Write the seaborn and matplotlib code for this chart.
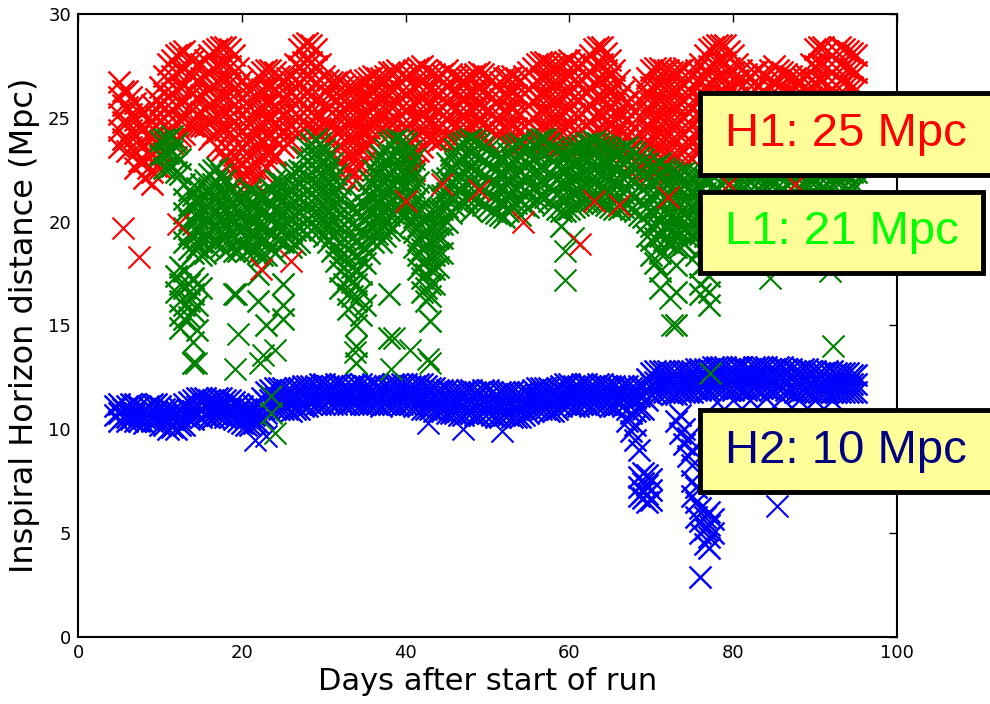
import matplotlib
matplotlib.use("Agg")
import matplotlib.pyplot as plt
import seaborn as sns
import pandas as pd
from matplotlib.patches import Rectangle

# ---------------- data ----------------
# (day, [horizon distances in Mpc seen around that day])
h1_rows = [
    (5, [26.7, 26.0, 25.2, 24.4, 23.6]), (5.5, [26.3, 25.6, 24.8, 24.0]),
    (6, [26.3, 25.5, 24.8, 24.0, 23.4]), (6.5, [26.0, 25.2, 24.4, 23.6]),
    (7, [25.7, 24.9, 24.1, 23.3, 22.6]), (7.5, [25.3, 24.5, 23.7, 22.9]),
    (8, [25.3, 24.5, 23.7, 22.9, 22.1]), (8.5, [25.0, 24.2, 23.4, 22.6]),
    (9, [25.6, 24.8, 24.0, 23.2, 22.4, 21.8]), (9.5, [25.9, 25.1, 24.3, 23.5, 22.7]),
    (10, [26.5, 25.7, 24.9, 24.1, 23.3, 22.6]), (10.5, [27.0, 26.2, 25.4, 24.6, 23.8, 23.0]),
    (11, [27.6, 26.8, 26.0, 25.2, 24.4, 23.6]), (11.5, [27.8, 27.0, 26.2, 25.4, 24.6, 23.8]),
    (12, [28.0, 27.2, 26.4, 25.6, 24.8, 24.0]), (12.5, [28.1, 27.3, 26.5, 25.7, 24.9, 24.1]),
    (13, [28.2, 27.4, 26.6, 25.8, 25.0, 24.2]), (13.5, [27.9, 27.1, 26.3, 25.5, 24.7]),
    (14, [27.8, 27.0, 26.2, 25.4, 24.6]), (14.5, [27.6, 26.8, 26.0, 25.2, 24.6]),
    (15, [27.6, 26.9, 26.1, 25.3, 24.6]), (15.5, [27.8, 27.0, 26.2, 25.4, 24.6]),
    (16, [28.0, 27.2, 26.4, 25.6, 24.8, 24.0]), (16.5, [28.2, 27.4, 26.6, 25.8, 25.0, 24.2]),
    (17, [28.3, 27.5, 26.7, 25.9, 25.1, 24.3, 23.6]), (17.5, [28.4, 27.6, 26.8, 26.0, 25.2, 24.4, 23.4]),
    (18, [28.4, 27.6, 26.8, 26.0, 25.2, 24.4, 23.6, 23.0]),
    (18.5, [28.3, 27.5, 26.7, 25.9, 25.1, 24.3, 23.4, 22.8]),
    (19, [28.0, 27.2, 26.4, 25.6, 24.8, 24.0, 23.2, 22.5]),
    (19.5, [27.4, 26.6, 25.8, 25.0, 24.2, 23.4, 22.6, 22.0]),
    (20, [26.8, 26.0, 25.2, 24.4, 23.6, 22.8, 22.0]), (20.5, [26.5, 25.7, 24.9, 24.1, 23.3, 22.5, 21.8]),
    (21, [26.3, 25.5, 24.7, 23.9, 23.1, 22.4, 21.7]), (21.5, [26.6, 25.8, 25.0, 24.2, 23.4, 22.6, 21.9]),
    (22, [27.0, 26.2, 25.4, 24.6, 23.8, 23.0, 22.2]), (22.5, [27.2, 26.4, 25.6, 24.8, 24.0, 23.2, 22.4]),
    (23, [27.3, 26.5, 25.7, 24.9, 24.1, 23.3, 22.6]), (23.5, [27.3, 26.5, 25.7, 24.9, 24.1, 23.3, 22.8]),
    (24, [27.2, 26.4, 25.6, 24.8, 24.0, 23.2]), (24.5, [27.0, 26.2, 25.4, 24.6, 23.8]),
    (25, [26.8, 26.0, 25.2, 24.4, 23.6]), (25.5, [26.9, 26.1, 25.3, 24.5, 23.8]),
    (26, [27.0, 26.2, 25.4, 24.6, 23.9]), (26.5, [27.6, 26.8, 26.0, 25.2, 24.4]),
    (27, [28.3, 27.5, 26.7, 25.9, 25.1, 24.3]), (27.5, [28.5, 27.7, 26.9, 26.1, 25.3, 24.5]),
    (28, [28.6, 27.8, 27.0, 26.2, 25.4, 24.6]), (28.5, [28.5, 27.7, 26.9, 26.1, 25.3, 24.5]),
    (29, [28.3, 27.5, 26.7, 25.9, 25.1, 24.4]), (29.5, [27.6, 26.8, 26.0, 25.2, 24.5]),
    (30, [27.0, 26.3, 25.6, 24.9, 24.3]), (30.5, [26.8, 26.1, 25.4, 24.7, 24.1]),
    (31, [26.7, 26.0, 25.3, 24.6, 24.0]), (31.5, [26.7, 25.9, 25.1, 24.3, 23.5]),
    (32, [26.8, 26.0, 25.2, 24.4, 23.6, 22.9]), (32.5, [26.6, 25.8, 25.0, 24.2, 23.4, 22.6]),
    (33, [26.5, 25.7, 24.9, 24.1, 23.3, 22.6, 22.0]), (33.5, [26.5, 25.7, 24.9, 24.1, 23.3, 22.5]),
    (34, [26.6, 25.8, 25.0, 24.2, 23.4, 22.7, 22.0]), (34.5, [26.7, 25.9, 25.1, 24.3, 23.5, 22.7]),
    (35, [26.8, 26.0, 25.2, 24.4, 23.6, 22.9]), (35.5, [26.9, 26.1, 25.3, 24.5, 23.7]),
    (36, [27.0, 26.2, 25.4, 24.6, 23.9]), (36.5, [26.9, 26.1, 25.3, 24.6]),
    (37, [26.9, 26.1, 25.3, 24.5]), (37.5, [27.0, 26.2, 25.4, 24.7]),
    (38, [27.2, 26.4, 25.6, 24.8, 24.2]), (38.5, [27.2, 26.4, 25.6, 24.8, 24.0]),
    (39, [27.3, 26.5, 25.7, 24.9, 24.1, 23.4]), (39.5, [27.1, 26.3, 25.5, 24.7, 23.9, 23.2]),
    (40, [27.0, 26.2, 25.4, 24.6, 23.8, 23.0, 22.4]), (40.5, [27.1, 26.3, 25.5, 24.7, 23.9, 23.1, 22.4]),
    (41, [27.3, 26.5, 25.7, 24.9, 24.1, 23.3, 22.5]), (41.5, [27.4, 26.6, 25.8, 25.0, 24.2, 23.4]),
    (42, [27.5, 26.7, 25.9, 25.1, 24.3, 23.6]), (42.5, [27.3, 26.5, 25.7, 24.9, 24.1]),
    (43, [27.2, 26.4, 25.6, 24.8, 24.0]), (43.5, [27.1, 26.3, 25.5, 24.7, 24.0]),
    (44, [27.0, 26.2, 25.4, 24.6, 23.9]), (44.5, [27.1, 26.3, 25.5, 24.7, 24.0]),
    (45, [27.3, 26.5, 25.7, 24.9, 24.1]), (45.5, [27.1, 26.3, 25.5, 24.7, 24.0]),
    (46, [27.0, 26.2, 25.4, 24.6, 23.9]), (46.5, [26.9, 26.1, 25.3, 24.5]),
    (47, [26.8, 26.0, 25.2, 24.4]), (47.5, [26.9, 26.1, 25.3, 24.5]),
    (48, [27.0, 26.2, 25.4, 24.6]), (48.5, [27.1, 26.3, 25.5, 24.7]),
    (49, [27.2, 26.4, 25.6, 24.8, 24.1]), (49.5, [27.1, 26.3, 25.5, 24.7, 24.0]),
    (50, [27.0, 26.2, 25.4, 24.6, 23.9]), (50.5, [26.8, 26.0, 25.2, 24.4]),
    (51, [26.6, 25.8, 25.0, 24.2]), (51.5, [26.7, 25.9, 25.1, 24.3]),
    (52, [26.9, 26.1, 25.3, 24.5]), (52.5, [26.9, 26.1, 25.3, 24.5]),
    (53, [27.0, 26.2, 25.4, 24.6, 23.9]), (53.5, [26.9, 26.1, 25.3, 24.5, 23.8]),
    (54, [26.8, 26.0, 25.2, 24.4, 23.7]), (54.5, [27.0, 26.2, 25.4, 24.6, 23.8]),
    (55, [27.2, 26.4, 25.6, 24.8, 24.0]), (55.5, [27.4, 26.6, 25.8, 25.0, 24.2]),
    (56, [27.6, 26.8, 26.0, 25.2, 24.4, 23.7]), (56.5, [27.7, 26.9, 26.1, 25.3, 24.5, 23.8]),
    (57, [27.7, 26.9, 26.1, 25.3, 24.5, 23.8]), (57.5, [27.6, 26.8, 26.0, 25.2, 24.4, 23.7]),
    (58, [27.5, 26.7, 25.9, 25.1, 24.3, 23.6]), (58.5, [27.5, 26.7, 25.9, 25.1, 24.3, 23.6]),
    (59, [27.6, 26.8, 26.0, 25.2, 24.4, 23.6]), (59.5, [27.7, 26.9, 26.1, 25.3, 24.5, 23.7]),
    (60, [27.8, 27.0, 26.2, 25.4, 24.6, 23.8]), (60.5, [27.6, 26.8, 26.0, 25.2, 24.4, 23.6]),
    (61, [27.5, 26.7, 25.9, 25.1, 24.3, 23.5]), (61.5, [27.6, 26.8, 26.0, 25.2, 24.4, 23.6]),
    (62, [27.8, 27.0, 26.2, 25.4, 24.6, 23.8]), (62.5, [28.0, 27.2, 26.4, 25.6, 24.8, 24.0]),
    (63, [28.3, 27.5, 26.7, 25.9, 25.1, 24.3, 23.6]), (63.5, [28.4, 27.6, 26.8, 26.0, 25.2, 24.4, 23.6]),
    (64, [28.4, 27.6, 26.8, 26.0, 25.2, 24.4, 23.6]), (64.5, [28.1, 27.3, 26.5, 25.7, 24.9, 24.1]),
    (65, [27.8, 27.0, 26.2, 25.4, 24.6, 23.8]), (65.5, [27.3, 26.5, 25.7, 24.9, 24.1, 23.5]),
    (66, [26.8, 26.0, 25.2, 24.4, 23.6]), (66.5, [26.3, 25.5, 24.7, 23.9, 23.1]),
    (67, [25.8, 25.0, 24.2, 23.4, 22.6]), (67.5, [25.5, 24.7, 23.9, 23.1, 22.4]),
    (68, [25.3, 24.5, 23.7, 22.9, 22.2]), (68.5, [25.9, 25.1, 24.3, 23.5, 22.7]),
    (69, [26.5, 25.7, 24.9, 24.1, 23.3, 22.5]), (69.5, [26.9, 26.1, 25.3, 24.5, 23.7, 22.9]),
    (70, [27.3, 26.5, 25.7, 24.9, 24.1, 23.3, 22.5]), (70.5, [27.4, 26.6, 25.8, 25.0, 24.2, 23.4, 22.6]),
    (71, [27.4, 26.6, 25.8, 25.0, 24.2, 23.4, 22.6]), (71.5, [27.3, 26.5, 25.7, 24.9, 24.1, 23.3, 22.5]),
    (72, [27.3, 26.5, 25.7, 24.9, 24.1, 23.3, 22.3]), (72.5, [27.2, 26.4, 25.6, 24.8, 24.0, 23.2]),
    (73, [27.2, 26.4, 25.6, 24.8, 24.0, 23.2, 22.4]), (73.5, [27.3, 26.5, 25.7, 24.9, 24.1, 23.3]),
    (74, [27.4, 26.6, 25.8, 25.0, 24.2, 23.4]), (74.5, [27.2, 26.4, 25.6, 24.8, 24.0, 23.2]),
    (75, [27.0, 26.2, 25.4, 24.6, 23.8, 23.0]), (75.5, [27.3, 26.5, 25.7, 24.9, 24.1, 23.3]),
    (76, [27.6, 26.8, 26.0, 25.2, 24.4, 23.6]), (76.5, [28.0, 27.2, 26.4, 25.6, 24.8, 24.0]),
    (77, [28.3, 27.5, 26.7, 25.9, 25.1, 24.3, 23.5]), (77.5, [28.4, 27.6, 26.8, 26.0, 25.2, 24.4]),
    (78, [28.5, 27.7, 26.9, 26.1, 25.3, 24.5, 23.7]), (78.5, [28.5, 27.7, 26.9, 26.1, 25.3, 24.5]),
    (79, [28.5, 27.7, 26.9, 26.1, 25.3, 24.5, 23.7]), (79.5, [28.2, 27.4, 26.6, 25.8, 25.0, 24.2]),
    (80, [28.0, 27.2, 26.4, 25.6, 24.8, 24.0]), (80.5, [27.6, 26.8, 26.0, 25.2, 24.4]),
    (81, [27.3, 26.5, 25.7, 24.9, 24.1]), (81.5, [27.1, 26.3, 25.5, 24.7]),
    (82, [27.0, 26.2, 25.4, 24.6]), (82.5, [27.2, 26.4, 25.6, 24.8]),
    (83, [27.3, 26.5, 25.7, 24.9]), (83.5, [27.1, 26.3, 25.5, 24.7]),
    (84, [27.0, 26.2, 25.4, 24.6]), (84.5, [27.3, 26.5, 25.7, 24.9]),
    (85, [27.5, 26.7, 25.9, 25.1]), (85.5, [27.3, 26.5, 25.7, 24.9]),
    (86, [27.2, 26.4, 25.6, 24.8]), (86.5, [27.1, 26.3, 25.5, 24.7]),
    (87, [27.0, 26.2, 25.4, 24.6]), (87.5, [26.9, 26.1, 25.3]),
    (88, [26.8, 26.0, 25.2]), (88.5, [26.9, 26.1, 25.3]),
    (89, [27.0, 26.2, 25.4]), (89.5, [27.6, 26.8, 26.0, 25.2]),
    (90, [28.3, 27.5, 26.7, 25.9, 25.1]), (90.5, [28.4, 27.6, 26.8, 26.0]),
    (91, [28.4, 27.6, 26.8, 26.0]), (91.5, [28.2, 27.4, 26.6, 25.8]),
    (92, [28.0, 27.2, 26.4, 25.6]), (92.5, [28.2, 27.4, 26.6, 25.8]),
    (93, [28.4, 27.6, 26.8, 26.0]), (93.5, [28.3, 27.5, 26.7, 25.9]),
    (94, [28.2, 27.4, 26.6, 25.8]), (94.5, [28.1, 27.3, 26.5, 25.7]),
    (95, [28.0, 27.2, 26.4, 25.6]),
]
h1_out_day = [5.5, 7.5, 12.2, 22.3, 26.0, 40.0, 44.5, 49.0, 54.3, 61.3, 63.0, 66.0, 72.0, 79.5, 87.5]
h1_out_val = [19.7, 18.3, 19.9, 17.7, 18.1, 21.0, 21.8, 21.5, 20.0, 18.9, 21.0, 20.8, 21.2, 21.8, 21.8]

l1_rows = [
    (10, [23.9, 23.2]), (10.5, [24.0, 23.3, 22.6]),
    (11, [24.0, 23.3, 22.6]), (11.5, [24.1, 23.4, 22.7]),
    (12, [23.8, 23.1, 22.4, 17.4, 16.6]), (12.5, [23.0, 22.3, 17.8, 17.0, 16.2, 15.5, 14.9]),
    (13, [21.8, 21.1, 20.4, 19.7, 19.0, 17.6, 16.8, 16.0, 15.3]),
    (13.5, [21.5, 20.8, 20.1, 19.4, 18.7, 17.0, 16.2, 15.4]),
    (14, [21.3, 20.6, 19.9, 19.2, 18.5, 17.3, 16.5, 15.7, 14.2, 13.2]),
    (14.5, [21.6, 20.9, 20.2, 19.5, 18.8, 17.0, 16.0, 14.8]),
    (15, [21.8, 21.1, 20.4, 19.7, 19.0, 18.4, 16.8]), (15.5, [22.0, 21.3, 20.6, 19.9, 19.2, 18.5]),
    (16, [22.3, 21.6, 20.9, 20.2, 19.5, 18.8]), (16.5, [22.5, 21.8, 21.1, 20.4, 19.7, 19.0]),
    (17, [22.6, 21.9, 21.2, 20.5, 19.8, 19.0]), (17.5, [22.3, 21.6, 20.9, 20.2, 19.5, 18.8]),
    (18, [22.0, 21.3, 20.6, 19.9, 19.2, 18.6]), (18.5, [21.6, 20.9, 20.2, 19.5, 18.8]),
    (19, [21.3, 20.6, 19.9, 19.2, 18.6, 16.5]), (19.5, [21.1, 20.4, 19.7, 19.0, 18.6]),
    (20, [21.0, 20.3, 19.6, 18.9]), (20.5, [21.3, 20.6, 19.9, 19.2, 18.6]),
    (21, [21.5, 20.8, 20.1, 19.4, 18.7]), (21.5, [21.4, 20.7, 20.0, 19.3, 18.6]),
    (22, [21.3, 20.6, 19.9, 19.2, 18.5, 17.5, 16.2]), (22.5, [21.2, 20.5, 19.8, 19.1, 18.4]),
    (23, [21.2, 20.5, 19.8, 19.1, 18.4, 15.0]), (23.5, [21.6, 20.9, 20.2, 19.5, 18.8]),
    (24, [22.0, 21.3, 20.6, 19.9, 19.2, 18.5]), (24.5, [21.9, 21.2, 20.5, 19.8, 19.1]),
    (25, [21.8, 21.1, 20.4, 19.7, 19.0, 17.0, 16.0, 15.3]), (25.5, [22.0, 21.3, 20.6, 19.9, 19.2]),
    (26, [22.3, 21.6, 20.9, 20.2, 19.5, 18.8]), (26.5, [22.4, 21.7, 21.0, 20.3, 19.6, 18.9]),
    (27, [22.5, 21.8, 21.1, 20.4, 19.7, 19.0]), (27.5, [23.1, 22.4, 21.7, 21.0, 20.3, 19.6]),
    (28, [23.6, 22.9, 22.2, 21.5, 20.8, 20.1, 19.4]), (28.5, [23.8, 23.1, 22.4, 21.7, 21.0, 20.3, 19.6]),
    (29, [24.0, 23.3, 22.6, 21.9, 21.2, 20.5, 19.8]), (29.5, [23.8, 23.1, 22.4, 21.7, 21.0, 20.3, 19.6]),
    (30, [23.5, 22.8, 22.1, 21.4, 20.7, 20.0, 19.3]), (30.5, [23.2, 22.5, 21.8, 21.1, 20.4, 19.7, 19.0]),
    (31, [22.8, 22.1, 21.4, 20.7, 20.0, 19.3, 18.6]), (31.5, [22.3, 21.6, 20.9, 20.2, 19.5, 18.8, 18.1]),
    (32, [21.8, 21.1, 20.4, 19.7, 19.0, 18.3, 17.6, 16.8]),
    (32.5, [21.3, 20.6, 19.9, 19.2, 18.5, 17.8, 17.0]),
    (33, [20.8, 20.1, 19.4, 18.7, 18.0, 17.3, 16.5, 15.8]),
    (33.5, [20.6, 19.9, 19.2, 18.5, 17.8, 17.1, 16.4]),
    (34, [20.5, 19.8, 19.1, 18.4, 17.7, 17.0, 16.2, 15.0, 14.0, 13.2]),
    (34.5, [21.0, 20.3, 19.6, 18.9, 18.2, 17.5, 16.6, 15.5]),
    (35, [21.5, 20.8, 20.1, 19.4, 18.7, 18.0, 16.0]), (35.5, [22.0, 21.3, 20.6, 19.9, 19.2, 18.5]),
    (36, [22.5, 21.8, 21.1, 20.4, 19.7, 19.0]), (36.5, [22.9, 22.2, 21.5, 20.8, 20.1, 19.4]),
    (37, [23.2, 22.5, 21.8, 21.1, 20.4, 19.7, 19.0]), (37.5, [23.5, 22.8, 22.1, 21.4, 20.7, 20.0, 19.3]),
    (38, [23.8, 23.1, 22.4, 21.7, 21.0, 20.3, 19.6, 16.5, 14.4]),
    (38.5, [23.9, 23.2, 22.5, 21.8, 21.1, 20.4, 19.7]),
    (39, [24.0, 23.3, 22.6, 21.9, 21.2, 20.5]), (39.5, [23.9, 23.2, 22.5, 21.8, 21.1, 20.4]),
    (40, [23.8, 23.1, 22.4, 21.7, 21.0, 20.3]), (40.5, [23.4, 22.7, 22.0, 21.3, 20.6, 19.9]),
    (41, [23.0, 22.3, 21.6, 20.9, 20.2, 19.5, 18.8]), (41.5, [21.9, 21.2, 20.5, 19.8, 19.1, 18.4, 17.7]),
    (42, [20.8, 20.1, 19.4, 18.7, 18.0, 17.3, 16.6]), (42.5, [20.3, 19.6, 18.9, 18.2, 17.5, 16.8, 16.2]),
    (43, [19.8, 19.1, 18.4, 17.7, 17.0, 16.4, 15.2]), (43.5, [20.5, 19.8, 19.1, 18.4, 17.7, 17.0]),
    (44, [21.3, 20.6, 19.9, 19.2, 18.5, 17.8]), (44.5, [22.0, 21.3, 20.6, 19.9, 19.2, 18.5]),
    (45, [22.8, 22.1, 21.4, 20.7, 20.0]), (45.5, [23.2, 22.5, 21.8, 21.1, 20.4]),
    (46, [23.5, 22.8, 22.1, 21.4, 20.7]), (46.5, [23.7, 23.0, 22.3, 21.6, 20.9]),
    (47, [23.8, 23.1, 22.4, 21.7, 21.0]), (47.5, [23.9, 23.2, 22.5, 21.8, 21.1]),
    (48, [24.0, 23.3, 22.6, 21.9, 21.2, 20.5]), (48.5, [23.9, 23.2, 22.5, 21.8, 21.1]),
    (49, [23.8, 23.1, 22.4, 21.7, 21.0]), (49.5, [23.6, 22.9, 22.2, 21.5, 20.8]),
    (50, [23.5, 22.8, 22.1, 21.4, 20.7]), (50.5, [23.3, 22.6, 21.9, 21.2, 20.5]),
    (51, [23.2, 22.5, 21.8, 21.1, 20.4]), (51.5, [23.1, 22.4, 21.7, 21.0, 20.3]),
    (52, [23.0, 22.3, 21.6, 20.9, 20.2]), (52.5, [23.3, 22.6, 21.9, 21.2, 20.5]),
    (53, [23.6, 22.9, 22.2, 21.5, 20.8]), (53.5, [23.7, 23.0, 22.3, 21.6, 20.9]),
    (54, [23.8, 23.1, 22.4, 21.7, 21.0, 20.3]), (54.5, [23.6, 22.9, 22.2, 21.5, 20.8]),
    (55, [23.5, 22.8, 22.1, 21.4, 20.7]), (55.5, [23.7, 23.0, 22.3, 21.6, 20.9]),
    (56, [23.9, 23.2, 22.5, 21.8, 21.1]), (56.5, [24.0, 23.3, 22.6, 21.9, 21.2]),
    (57, [24.0, 23.3, 22.6, 21.9, 21.2]), (57.5, [23.8, 23.1, 22.4, 21.7, 21.0]),
    (58, [23.6, 22.9, 22.2, 21.5, 20.8]), (58.5, [23.4, 22.7, 22.0, 21.3, 20.6]),
    (59, [23.3, 22.6, 21.9, 21.2, 20.5, 19.8]), (59.5, [23.3, 22.6, 21.9, 21.2, 20.5]),
    (60, [23.4, 22.7, 22.0, 21.3, 20.6]), (60.5, [23.5, 22.8, 22.1, 21.4, 20.7]),
    (61, [23.6, 22.9, 22.2, 21.5, 20.8]), (61.5, [23.7, 23.0, 22.3, 21.6, 20.9]),
    (62, [23.8, 23.1, 22.4, 21.7, 21.0]), (62.5, [23.8, 23.1, 22.4, 21.7, 21.0]),
    (63, [23.9, 23.2, 22.5, 21.8, 21.1]), (63.5, [23.8, 23.1, 22.4, 21.7, 21.0]),
    (64, [23.7, 23.0, 22.3, 21.6, 20.9]), (64.5, [23.6, 22.9, 22.2, 21.5, 20.8]),
    (65, [23.5, 22.8, 22.1, 21.4, 20.7]), (65.5, [23.4, 22.7, 22.0, 21.3, 20.6]),
    (66, [23.4, 22.7, 22.0, 21.3, 20.6]), (66.5, [23.5, 22.8, 22.1, 21.4, 20.7]),
    (67, [23.6, 22.9, 22.2, 21.5, 20.8]), (67.5, [23.4, 22.7, 22.0, 21.3, 20.6]),
    (68, [23.3, 22.6, 21.9, 21.2, 20.5]), (68.5, [23.1, 22.4, 21.7, 21.0, 20.3]),
    (69, [23.0, 22.3, 21.6, 20.9, 20.2]), (69.5, [22.8, 22.1, 21.4, 20.7, 20.0, 19.3]),
    (70, [22.6, 21.9, 21.2, 20.5, 19.8, 19.1, 18.4]), (70.5, [22.7, 22.0, 21.3, 20.6, 19.9, 19.2, 18.0]),
    (71, [22.8, 22.1, 21.4, 20.7, 20.0, 19.3, 18.5, 17.6, 16.8]),
    (71.5, [22.6, 21.9, 21.2, 20.5, 19.8, 19.1]),
    (72, [22.5, 21.8, 21.1, 20.4, 19.7, 19.0]), (72.5, [22.4, 21.7, 21.0, 20.3, 19.6, 18.9]),
    (73, [22.3, 21.6, 20.9, 20.2, 19.5, 18.8, 17.9, 16.6, 15.0]),
    (73.5, [22.3, 21.6, 20.9, 20.2, 19.5, 18.8]),
    (74, [22.4, 21.7, 21.0, 20.3, 19.6, 18.9]), (74.5, [22.3, 21.6, 20.9, 20.2, 19.5]),
    (75, [22.2, 21.5, 20.8, 20.1, 19.4]), (75.5, [22.2, 21.5, 20.8, 20.1, 19.4, 18.4]),
    (76, [22.2, 21.5, 20.8, 20.1, 19.4, 18.7, 17.8, 17.0, 16.5]),
    (76.5, [22.1, 21.4, 20.7, 20.0, 19.3, 18.0]),
    (77, [22.0, 21.3, 20.6, 19.9, 19.2, 18.3, 17.4, 16.6, 16.0]),
    (77.5, [22.2, 21.5, 20.8, 20.1]),
    (78, [22.3, 21.6, 20.9, 20.2]), (78.5, [22.5, 21.8, 21.1]),
    (79, [22.6, 21.9, 21.2, 20.5]), (79.5, [22.5, 21.8, 21.1]),
    (80, [22.4, 21.7, 21.0, 20.3]), (80.5, [22.5, 21.8, 21.1]),
    (81, [22.5, 21.8, 21.1, 20.4]), (81.5, [22.5, 21.8, 21.1]),
    (82, [22.6, 21.9, 21.2]), (82.5, [22.4, 21.7, 21.0]),
    (83, [22.3, 21.6, 20.9]), (83.5, [22.4, 21.7, 21.0]),
    (84, [22.4, 21.7, 21.0, 20.2]), (84.5, [22.5, 21.8, 21.1]),
    (85, [22.5, 21.8, 21.1]), (85.5, [22.4, 21.7, 21.0]),
    (86, [22.3, 21.6, 20.9]), (86.5, [22.5, 21.8, 21.1]),
    (87, [22.6, 21.9, 21.2]), (87.5, [22.5, 21.8, 21.1]),
    (88, [22.4, 21.7, 21.0]), (88.5, [22.5, 21.8, 21.1]),
    (89, [22.5, 21.8, 21.1]), (89.5, [22.6, 21.9, 21.2]),
    (90, [22.6, 21.9, 21.2]), (90.5, [22.5, 21.8, 21.1]),
    (91, [22.4, 21.7, 21.0]), (91.5, [22.5, 21.8, 21.1]),
    (92, [22.5, 21.8, 21.1]), (92.5, [22.6, 21.9, 21.2]),
    (93, [22.6, 21.9, 21.2]), (93.5, [22.4, 21.7, 21.0]),
    (94, [22.3, 21.6, 20.9]), (94.5, [22.4, 21.7, 21.0]),
    (95, [22.4, 21.7, 21.0]),
]
l1_out_day = [19.3, 19.5, 19.2, 14.4, 22.2, 22.6, 23.6, 23.6, 24.0, 24.0, 33.8, 38.2, 38.6,
              40.5, 42.7, 43.0, 59.5, 59.5, 60.4, 72.5, 72.3, 77.2, 84.5, 91.8, 92.2]
l1_out_val = [16.5, 14.6, 12.9, 13.2, 13.2, 13.6, 11.6, 10.8, 9.8, 13.8, 13.7, 12.9, 14.4,
              13.8, 13.4, 13.2, 17.2, 18.6, 19.2, 15.0, 16.3, 12.7, 17.3, 17.6, 14.0]

h2_rows = [
    (4.5, [11.1, 10.7]),
    (5, [11.2, 10.8, 10.4]), (5.5, [11.0, 10.6]),
    (6, [11.1, 10.6, 10.4]), (6.5, [11.2, 10.8, 10.5]),
    (7, [11.2, 10.8, 10.4]), (7.5, [11.1, 10.7, 10.4]),
    (8, [11.0, 10.6, 10.3]), (8.5, [11.1, 10.7]),
    (9, [11.2, 10.7, 10.4]), (9.5, [11.2, 10.8, 10.4]),
    (10, [11.1, 10.6, 10.2]), (10.5, [11.0, 10.6, 10.2]),
    (11, [11.0, 10.5, 10.0]), (11.5, [10.9, 10.5, 10.1]),
    (12, [10.9, 10.4, 10.0]), (12.5, [11.0, 10.6, 10.2]),
    (13, [11.2, 10.7, 10.2]), (13.5, [11.3, 10.9, 10.5]),
    (14, [11.4, 10.9, 10.5]), (14.5, [11.5, 11.1, 10.7]),
    (15, [11.5, 11.0, 10.6]), (15.5, [11.5, 11.1, 10.7]),
    (16, [11.4, 11.0, 10.6]), (16.5, [11.4, 11.0, 10.6]),
    (17, [11.5, 11.1, 10.7]), (17.5, [11.5, 11.1, 10.7]),
    (18, [11.4, 10.9, 10.6]), (18.5, [11.4, 11.0, 10.6]),
    (19, [11.3, 10.8, 10.5]), (19.5, [11.2, 10.8, 10.4]),
    (20, [11.1, 10.7, 10.3]), (20.5, [11.0, 10.6, 10.2]),
    (21, [11.0, 10.6, 10.2]), (21.5, [11.1, 10.7, 10.3]),
    (22, [11.2, 10.7, 10.3]), (22.5, [11.5, 11.0, 10.6]),
    (23, [11.8, 11.3, 10.8]), (23.5, [11.9, 11.4, 10.9]),
    (24, [12.0, 11.5, 11.0]), (24.5, [12.0, 11.5, 11.0]),
    (25, [12.0, 11.5, 11.0]), (25.5, [11.9, 11.4, 11.0]),
    (26, [11.9, 11.4, 10.9]), (26.5, [12.0, 11.5, 11.0]),
    (27, [12.0, 11.5, 11.0]), (27.5, [12.1, 11.6, 11.1]),
    (28, [12.1, 11.6, 11.1]), (28.5, [12.1, 11.6, 11.2]),
    (29, [12.1, 11.6, 11.2]), (29.5, [12.2, 11.7, 11.2]),
    (30, [12.2, 11.7, 11.2]), (30.5, [12.1, 11.7, 11.3]),
    (31, [12.1, 11.6, 11.2]), (31.5, [12.2, 11.7, 11.2]),
    (32, [12.2, 11.7, 11.3]), (32.5, [12.1, 11.6, 11.2]),
    (33, [12.0, 11.6, 11.2]), (33.5, [12.1, 11.7, 11.3]),
    (34, [12.2, 11.7, 11.3]), (34.5, [12.2, 11.7, 11.2]),
    (35, [12.1, 11.6, 11.2]), (35.5, [12.1, 11.7, 11.2]),
    (36, [12.2, 11.7, 11.2]), (36.5, [12.1, 11.6, 11.2]),
    (37, [12.0, 11.5, 11.1]), (37.5, [12.1, 11.6, 11.2]),
    (38, [12.1, 11.6, 11.2]), (38.5, [12.2, 11.7, 11.2]),
    (39, [12.2, 11.7, 11.2]), (39.5, [12.2, 11.7, 11.2]),
    (40, [12.2, 11.7, 11.2]), (40.5, [12.1, 11.7, 11.2]),
    (41, [12.1, 11.6, 11.1]), (41.5, [12.2, 11.6, 11.1]),
    (42, [12.2, 11.6, 11.0]), (42.5, [12.1, 11.6, 11.0]),
    (43, [12.0, 11.5, 11.0]), (43.5, [12.0, 11.5, 10.9]),
    (44, [11.9, 11.4, 10.9]), (44.5, [11.9, 11.4, 10.9]),
    (45, [11.9, 11.4, 10.8]), (45.5, [11.8, 11.3, 10.8]),
    (46, [11.8, 11.3, 10.8]), (46.5, [11.8, 11.3, 10.7]),
    (47, [11.8, 11.2, 10.7]), (47.5, [11.9, 11.3, 10.8]),
    (48, [11.9, 11.3, 10.8]), (48.5, [11.8, 11.2, 10.7]),
    (49, [11.8, 11.2, 10.7]), (49.5, [11.9, 11.3, 10.8]),
    (50, [11.9, 11.3, 10.8]), (50.5, [11.8, 11.2, 10.7]),
    (51, [11.7, 11.2, 10.6]), (51.5, [11.8, 11.2, 10.6]),
    (52, [11.8, 11.2, 10.7]), (52.5, [11.8, 11.2, 10.7]),
    (53, [11.8, 11.2, 10.6]), (53.5, [11.7, 11.1, 10.6]),
    (54, [11.7, 11.1, 10.6]), (54.5, [11.8, 11.2, 10.7]),
    (55, [11.8, 11.3, 10.8]), (55.5, [11.9, 11.4, 10.9]),
    (56, [12.0, 11.5, 11.0]), (56.5, [12.0, 11.5, 11.0]),
    (57, [12.0, 11.5, 11.0]), (57.5, [12.0, 11.4, 10.9]),
    (58, [11.9, 11.4, 10.9]), (58.5, [12.0, 11.5, 11.0]),
    (59, [12.1, 11.6, 11.1]), (59.5, [12.2, 11.7, 11.2]),
    (60, [12.2, 11.7, 11.2]), (60.5, [12.1, 11.6, 11.1]),
    (61, [12.1, 11.6, 11.1]), (61.5, [12.2, 11.7, 11.2]),
    (62, [12.2, 11.7, 11.2]), (62.5, [12.1, 11.6, 11.1]),
    (63, [12.1, 11.6, 11.2]), (63.5, [12.2, 11.7, 11.2]),
    (64, [12.2, 11.7, 11.2]), (64.5, [12.1, 11.6, 11.2]),
    (65, [12.1, 11.6, 11.1]), (65.5, [12.1, 11.6, 11.1]),
    (66, [12.0, 11.6, 11.2]), (66.5, [12.1, 11.6, 11.1]),
    (67, [12.1, 11.6, 11.0, 10.4]), (67.5, [12.0, 11.5, 10.8, 9.9]),
    (68, [12.0, 11.5, 10.9, 10.2, 9.5]), (68.5, [12.1, 11.6, 11.0, 9.0, 7.7, 7.2, 6.8]),
    (69, [12.1, 11.6, 11.0, 7.9, 7.4, 7.0, 6.7]), (69.5, [12.4, 11.9, 11.4, 7.8, 7.3, 6.9, 6.5]),
    (70, [12.7, 12.2, 11.7, 7.6, 7.1, 6.6]), (70.5, [12.8, 12.3, 11.8]),
    (71, [12.8, 12.3, 11.8]), (71.5, [12.8, 12.3, 11.8]),
    (72, [12.8, 12.3, 11.8]), (72.5, [12.7, 12.2, 11.7]),
    (73, [12.7, 12.2, 11.7, 10.4]), (73.5, [12.8, 12.3, 11.8, 10.7, 9.8]),
    (74, [12.8, 12.3, 11.8, 10.0, 9.3]), (74.5, [12.8, 12.3, 11.8, 9.6, 8.7]),
    (75, [12.8, 12.3, 11.8, 9.0, 8.3, 7.5, 6.8]), (75.5, [12.9, 12.4, 11.9, 7.2, 6.5, 5.8]),
    (76, [12.9, 12.4, 11.9, 6.2, 5.6, 5.0, 2.9]), (76.5, [12.9, 12.4, 11.9, 5.8, 5.2, 4.5]),
    (77, [12.9, 12.4, 11.9, 10.5, 6.0, 5.4, 4.8, 4.3]), (77.5, [13.0, 12.5, 12.0, 5.7, 5.0]),
    (78, [13.0, 12.5, 12.0, 11.3]), (78.5, [13.0, 12.5, 12.0]),
    (79, [13.0, 12.5, 12.0]), (79.5, [12.9, 12.4, 11.9]),
    (80, [12.9, 12.4, 11.9, 11.4]), (80.5, [13.0, 12.5, 12.0]),
    (81, [13.0, 12.5, 12.0]), (81.5, [12.9, 12.4, 11.9]),
    (82, [12.9, 12.4, 11.9, 11.4]), (82.5, [13.0, 12.5, 12.0]),
    (83, [13.0, 12.5, 12.0]), (83.5, [13.0, 12.5, 12.0]),
    (84, [13.0, 12.5, 12.0, 11.5]), (84.5, [12.9, 12.4, 11.9]),
    (85, [12.9, 12.4, 11.9]), (85.5, [13.0, 12.5, 12.0]),
    (86, [13.0, 12.5, 12.0, 11.5]), (86.5, [12.9, 12.4, 11.9]),
    (87, [12.9, 12.4, 11.9]), (87.5, [12.8, 12.3, 11.8]),
    (88, [12.8, 12.3, 11.8, 11.4]), (88.5, [12.9, 12.4, 11.9]),
    (89, [12.9, 12.4, 11.9]), (89.5, [12.8, 12.3, 11.8]),
    (90, [12.8, 12.3, 11.8, 11.4]), (90.5, [12.7, 12.2, 11.8]),
    (91, [12.7, 12.2, 11.8]), (91.5, [12.8, 12.3, 11.8]),
    (92, [12.8, 12.3, 11.8, 11.4]), (92.5, [12.7, 12.2, 11.8]),
    (93, [12.7, 12.2, 11.8]), (93.5, [12.7, 12.2, 11.8]),
    (94, [12.7, 12.2, 11.8]), (94.5, [12.6, 12.2, 11.8]),
    (95, [12.6, 12.2, 11.8]),
]
h2_out_day = [21.6, 23.0, 42.7, 47.0, 51.8, 85.3]
h2_out_val = [9.5, 9.7, 10.3, 10.0, 9.9, 6.3]

labels = ["H1: 25 Mpc", "L1: 21 Mpc", "H2: 10 Mpc"]
label_colors = ["#ff0000", "#00ff00", "#000080"]
x_ticks = [0, 20, 40, 60, 80, 100]
y_ticks = [0, 5, 10, 15, 20, 25, 30]


def flatten(rows, det):
    recs = []
    for day, vals in rows:
        for v in vals:
            recs.append({"day": day, "dist": v, "det": det})
    return recs


df_h1 = pd.DataFrame(flatten(h1_rows, "H1"))
df_l1 = pd.DataFrame(flatten(l1_rows, "L1"))
df_h2 = pd.DataFrame(flatten(h2_rows, "H2"))
df_h1o = pd.DataFrame({"day": h1_out_day, "dist": h1_out_val})
df_l1o = pd.DataFrame({"day": l1_out_day, "dist": l1_out_val})
df_h2o = pd.DataFrame({"day": h2_out_day, "dist": h2_out_val})

sns.set_style("white")
plt.rcParams["font.family"] = ["DejaVu Sans"]

fig = plt.figure(figsize=(9.9, 7.04), dpi=100)
ax = fig.add_axes([0.0788, 0.0952, 0.8273, 0.8850])

ms = 250
band = dict(x="day", y="dist", marker="x", s=ms, linewidth=1.75, ax=ax, legend=False)
single = dict(x="day", y="dist", marker="x", s=ms, linewidth=1.5, ax=ax, legend=False)
sns.scatterplot(data=df_h2, color="#0000ff", zorder=2, **band)
sns.scatterplot(data=df_h2o, color="#0000ff", zorder=2, **single)
sns.scatterplot(data=df_h1, color="#ff0000", zorder=3, **band)
sns.scatterplot(data=df_l1, color="#008000", zorder=4, **band)
sns.scatterplot(data=df_l1o, color="#008000", zorder=4, **single)
sns.scatterplot(data=df_h1o, color="#ff0000", zorder=5, **single)

ax.set_xlim(0, 100)
ax.set_ylim(0, 30)
ax.set_xticks(x_ticks)
ax.set_yticks(y_ticks)
ax.tick_params(direction="in", top=True, right=True, length=6, width=1,
               labelsize=13, colors="black", pad=5)
for sp in ax.spines.values():
    sp.set_color("black")
    sp.set_linewidth(1.5)
ax.set_xlabel("Days after start of run", fontsize=22, labelpad=4, color="black")
ax.set_ylabel("Inspiral Horizon distance (Mpc)", fontsize=23, labelpad=6, color="black")

# annotation boxes (figure coordinates)
boxes = [
    (0.7071, 0.7514, 0.30, 0.1165, 0.8097),
    (0.7071, 0.6122, 0.2858, 0.1151, 0.6705),
    (0.7071, 0.3011, 0.30, 0.1165, 0.3594),
]
for (x0, y0, w, h, yc), txt, col in zip(boxes, labels, label_colors):
    fig.patches.append(Rectangle((x0, y0), w, h, transform=fig.transFigure,
                                 facecolor="#ffff99", edgecolor="black",
                                 linewidth=3.5, zorder=10))
    fig.text(0.7323, yc, txt, color=col, fontsize=34, va="center", ha="left",
             family=["Liberation Sans", "DejaVu Sans"], zorder=11)

fig.savefig("out.png", dpi=100)
